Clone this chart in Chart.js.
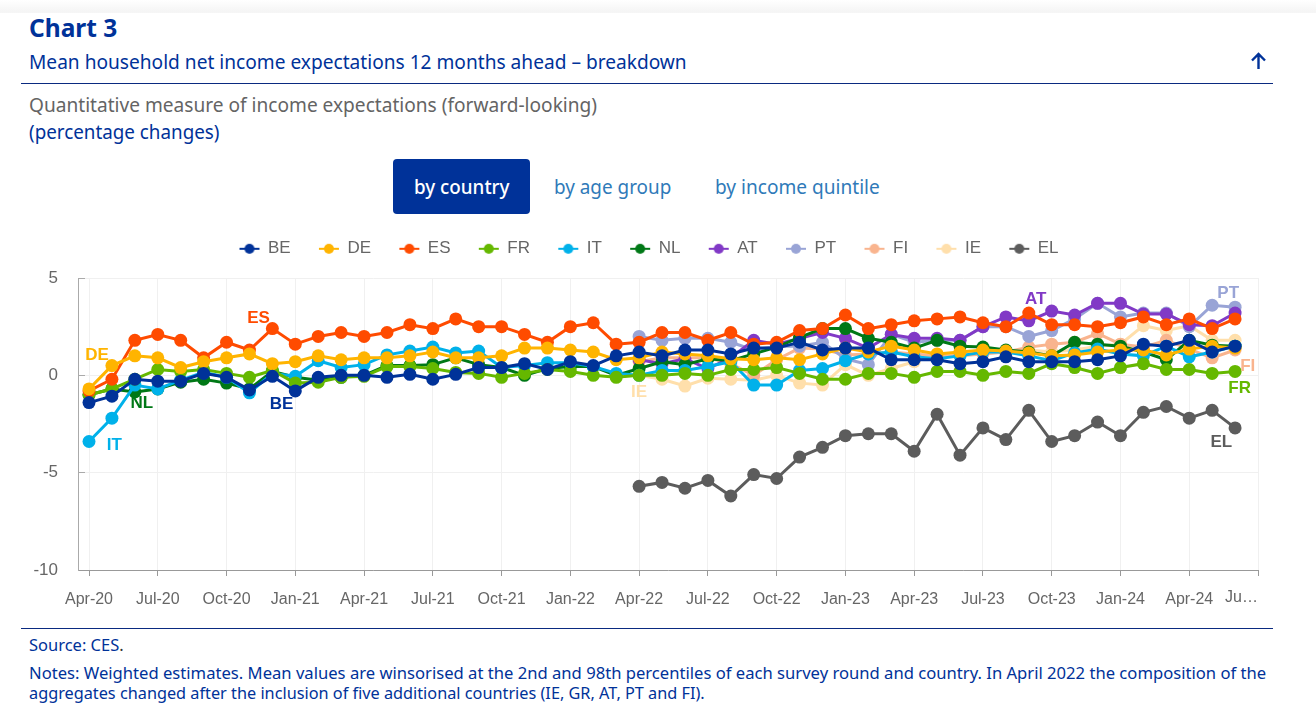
<!DOCTYPE html>
<html>
<head>
<meta charset="utf-8">
<script src="https://cdn.jsdelivr.net/npm/chart.js@4"></script>
<style>
html, body { margin: 0; padding: 0; background: #fff; overflow: hidden; }
body { width: 1316px; height: 708px; position: relative; font-family: "Noto Sans", sans-serif; color: #003299; }
.abs { position: absolute; white-space: nowrap; transform-origin: left center; }
.band { left: 0; top: 0; width: 1316px; height: 13px; background: linear-gradient(#fff, #f4f4f4 95%, #fafafa); }
.rule { height: 1px; background: #0a2a80; left: 21px; width: 1252px; }
.tab { font-size: 20px; line-height: 55px; top: 159px; color: #2f7ab9; }
#wrap { left: 0; top: 211px; width: 1316px; height: 409px; }
</style>
</head>
<body>
<div class="abs band"></div>
<div class="abs" style="left:29px;top:11px;font-size:24.5px;line-height:33px;font-weight:700">Chart 3</div>
<div class="abs" style="left:29px;top:48px;font-size:20px;line-height:28px;transform:scaleX(.956)">Mean household net income expectations 12 months ahead – breakdown</div>
<svg class="abs" style="left:1248px;top:50px" width="20" height="22" viewBox="0 0 20 22"><path d="M10.5 19V4M4 10.5L10.5 4L17 10.5" fill="none" stroke="#003299" stroke-width="2.4"/></svg>
<div class="abs rule" style="top:83px"></div>
<div class="abs" style="left:29px;top:91px;font-size:20px;line-height:28px;color:#646464;transform:scaleX(.955)">Quantitative measure of income expectations (forward-looking)</div>
<div class="abs" style="left:29px;top:118px;font-size:20px;line-height:28px;transform:scaleX(.94)">(percentage changes)</div>
<div class="abs tab" style="left:393px;width:137px;height:55px;background:#003299;border-radius:4px"></div>
<div class="abs tab" style="left:414px;color:#fff;font-weight:500;transform:scaleX(.94)">by country</div>
<div class="abs tab" style="left:554px;transform:scaleX(.944)">by age group</div>
<div class="abs tab" style="left:715px;transform:scaleX(.954)">by income quintile</div>
<div class="abs" id="wrap"><canvas id="incomeChart" width="1316" height="409"></canvas></div>
<div class="abs rule" style="top:628px"></div>
<div class="abs" style="left:29px;top:634px;font-size:16px;line-height:22px;transform:scaleX(1.03)">Source: CES<span style="color:#333">.</span></div>
<div class="abs" style="left:29px;top:663px;font-size:16px;line-height:20px;transform:scaleX(1.0386)">Notes: Weighted estimates. Mean values are winsorised at the 2nd and 98th percentiles of each survey round and country. In April 2022 the composition of the</div>
<div class="abs" style="left:29px;top:683px;font-size:16px;line-height:20px;transform:scaleX(1.0166)">aggregates changed after the inclusion of five additional countries (IE, GR, AT, PT and FI).</div>

<script>
// monthly survey rounds, Apr-20 to Jun-24
const months = ['Apr-20','May-20','Jun-20','Jul-20','Aug-20','Sep-20','Oct-20','Nov-20','Dec-20',
    'Jan-21','Feb-21','Mar-21','Apr-21','May-21','Jun-21','Jul-21','Aug-21','Sep-21','Oct-21','Nov-21','Dec-21',
    'Jan-22','Feb-22','Mar-22','Apr-22','May-22','Jun-22','Jul-22','Aug-22','Sep-22','Oct-22','Nov-22','Dec-22',
    'Jan-23','Feb-23','Mar-23','Apr-23','May-23','Jun-23','Jul-23','Aug-23','Sep-23','Oct-23','Nov-23','Dec-23',
    'Jan-24','Feb-24','Mar-24','Apr-24','May-24','Jun-24'];
const yTicks = [5, 0, -5, -10];

const BE = [-1.4,-1.07,-0.2,-0.3,-0.3,0.1,-0.1,-0.75,-0.05,-0.8,-0.1,0,0,-0.1,0.05,-0.2,0.05,0.4,0.4,0.6,0.3,0.7,0.5,1.0,1.2,1.0,1.3,1.3,1.1,1.4,1.4,1.7,1.3,1.4,1.4,0.8,0.8,0.8,0.6,0.7,0.95,0.7,0.7,0.7,0.8,1.0,1.6,1.5,1.8,1.2,1.5];
const DE = [-0.7,0.5,1.0,0.9,0.4,0.7,0.9,1.1,0.6,0.7,1.0,0.8,0.9,0.9,1.0,1.2,0.9,0.9,1.0,1.4,1.4,1.3,1.2,0.8,0.9,1.2,1.1,1.0,0.85,0.8,0.9,0.8,1.1,1.4,1.2,1.5,1.3,1.1,1.2,1.3,1.25,1.15,1.0,1.05,1.2,1.3,1.3,1.05,1.35,1.5,1.4];
const ES = [-0.8,-0.2,1.8,2.1,1.8,0.9,1.7,1.3,2.4,1.6,2.0,2.2,2.0,2.2,2.6,2.4,2.9,2.5,2.5,2.1,1.7,2.5,2.7,1.6,1.7,2.2,2.2,1.8,2.2,1.6,1.7,2.3,2.4,3.1,2.4,2.6,2.8,2.9,3.0,2.7,2.5,3.2,2.6,2.6,2.5,2.7,3.0,2.6,2.9,2.4,2.9];
const FR = [-1.0,-0.7,-0.2,0.3,0.2,0.3,0.1,-0.1,0.25,-0.4,-0.35,-0.1,-0.05,0.45,0.45,0.35,0.15,0.1,-0.1,0.1,0.3,0.2,0,-0.1,0,0,0.1,0,0.3,0.3,0.4,0.1,-0.2,-0.2,0.1,0.1,-0.1,0.2,0.2,0,0.2,0.1,0.6,0.4,0.1,0.4,0.6,0.3,0.3,0.1,0.2];
const IT = [-3.4,-2.2,-0.5,-0.7,-0.25,0.15,-0.1,-0.9,0.1,-0.05,0.75,0.4,0.55,1.05,1.25,1.45,1.15,1.25,0.4,0.5,0.65,0.65,0.45,0.1,0,0.25,0.25,0.45,0.7,-0.5,-0.5,0.25,0.35,0.75,1.1,1.2,0.95,0.85,1.0,1.2,1.2,1.0,0.75,1.15,1.35,1.1,1.0,1.5,0.95,1.2,1.5];
const NL = [-1.0,-0.7,-0.85,-0.7,-0.35,-0.2,-0.4,-0.7,0.2,-0.1,-0.25,-0.1,0,0.5,0.5,0.55,0.9,0.55,0.4,0,0.35,0.45,0.45,0,0.35,0.7,0.55,0.85,0.75,1.1,1.45,1.95,2.4,2.4,1.9,1.7,1.4,1.8,1.5,1.45,1.3,1.2,1.0,1.7,1.6,1.5,1.2,0.8,1.8,1.55,1.5];
const AT = [null,null,null,null,null,null,null,null,null,null,null,null,null,null,null,null,null,null,null,null,null,null,null,null,0.8,0.6,0.85,0.35,0.9,1.8,1.6,1.9,2.2,1.9,1.4,2.1,1.9,1.9,1.8,2.5,3.0,2.8,3.3,3.1,3.7,3.7,3.15,3.15,2.6,2.55,3.2];
const PT = [null,null,null,null,null,null,null,null,null,null,null,null,null,null,null,null,null,null,null,null,null,null,null,null,2.0,1.8,1.9,1.9,1.7,1.3,1.5,1.5,1.7,0.85,0.55,2.1,1.7,1.8,1.8,2.5,2.5,2.0,2.3,2.9,3.7,3.0,3.2,3.2,2.5,3.6,3.5];
const FI = [null,null,null,null,null,null,null,null,null,null,null,null,null,null,null,null,null,null,null,null,null,null,null,null,0.7,0.9,0.9,0.9,0.6,0,0.8,1.4,1.35,1.05,1.1,1.2,1.1,1.0,1.0,1.1,1.2,1.45,1.6,1.7,2.15,1.6,1.45,1.8,1.35,0.9,1.3];
const IE = [null,null,null,null,null,null,null,null,null,null,null,null,null,null,null,null,null,null,null,null,null,null,null,null,0,-0.2,-0.55,-0.15,-0.2,-0.25,0,-0.4,-0.5,0.55,0,0.35,0.7,1.1,1.1,1.2,1.2,1.3,1.2,1.3,1.5,1.6,2.55,2.3,2.55,1.8,1.8];
const EL = [null,null,null,null,null,null,null,null,null,null,null,null,null,null,null,null,null,null,null,null,null,null,null,null,-5.7,-5.5,-5.8,-5.4,-6.2,-5.1,-5.3,-4.2,-3.7,-3.1,-3.0,-3.0,-3.9,-2.0,-4.1,-2.7,-3.3,-1.8,-3.4,-3.1,-2.4,-3.1,-1.9,-1.6,-2.2,-1.8,-2.7];

const countries = ['BE','DE','ES','FR','IT','NL','AT','PT','FI','IE','EL'];
const seriesValues = [BE, DE, ES, FR, IT, NL, AT, PT, FI, IE, EL];
const colours = ['#003299','#ffb400','#ff4b00','#65b800','#00b1ea','#007816','#8139c6','#99a4d6','#f9b48e','#ffdfab','#5c5c5c'];

// labels sitting next to the lines, in axis units (month index, percent)
const lineTags = [
    ['DE', 0.35, 1.05, 1], ['ES', 7.4, 2.95, 2], ['NL', 2.3, -1.45, 5], ['IT', 1.1, -3.6, 4], ['BE', 8.4, -1.5, 0],
    ['IE', 24, -0.87, 9], ['AT', 41.3, 3.9, 6], ['PT', 49.7, 4.2, 7], ['FI', 50.55, 0.45, 8], ['FR', 50.2, -0.65, 3], ['EL', 49.4, -3.43, 10]
];

function legendIcon(colour) {
    const c = document.createElement('canvas');
    c.width = 22; c.height = 14;
    const g = c.getContext('2d');
    g.strokeStyle = colour; g.lineWidth = 2;
    g.beginPath(); g.moveTo(1, 7); g.lineTo(21, 7); g.stroke();
    g.fillStyle = colour;
    g.beginPath(); g.arc(11, 7, 5, 0, Math.PI * 2); g.fill();
    return c;
}

const tagsPlugin = {
    id: 'lineTags',
    beforeInit(chart) {
        // fixed legend height, so the plot area lands where it should
        const fit = chart.legend.fit;
        chart.legend.fit = function () {
            fit.call(this);
            this.height = 66;
        };
    },
    afterLayout(chart) {
        chart.legend.right += 40;
    },
    afterDraw(chart) {
        const x = chart.scales.x, y = chart.scales.y, ctx = chart.ctx;
        ctx.save();
        ctx.font = 'bold 17px "Liberation Sans"';
        ctx.textAlign = 'center';
        ctx.textBaseline = 'middle';
        lineTags.forEach(t => {
            ctx.fillStyle = colours[t[3]];
            ctx.fillText(t[0], x.getPixelForValue(t[1]), y.getPixelForValue(t[2]));
        });
        // last x label is cut off in the original
        ctx.font = '16px "Liberation Sans"';
        ctx.fillStyle = '#666';
        ctx.textAlign = 'right';
        ctx.fillText('Ju…', x.getPixelForValue(51), 387);
        ctx.restore();
    }
};

new Chart(document.getElementById('incomeChart'), {
    type: 'line',
    plugins: [tagsPlugin],
    data: {
        datasets: countries.map((name, i) => ({
            label: name,
            data: seriesValues[i].map((v, k) => ({ x: k, y: v })),
            borderColor: colours[i],
            backgroundColor: colours[i],
            borderWidth: 3,
            pointRadius: 6.5,
            pointBorderWidth: 0,
            pointStyle: 'circle',
            tension: 0
        }))
    },
    options: {
        responsive: false,
        animation: false,
        layout: { padding: { left: 0, right: 58, top: 1, bottom: 0 } },
        plugins: {
            tooltip: { enabled: false },
            legend: {
                position: 'top',
                labels: {
                    usePointStyle: true,
                    pointStyleWidth: 20,
                    padding: 28.3,
                    color: '#666',
                    font: { family: '"Liberation Sans"', size: 17 },
                    generateLabels(chart) {
                        return chart.data.datasets.map((d, i) => ({
                            text: d.label, datasetIndex: i, pointStyle: legendIcon(colours[i]),
                            fontColor: '#666', lineWidth: 0, strokeStyle: 'transparent', fillStyle: colours[i]
                        }));
                    }
                }
            }
        },
        scales: {
            x: {
                type: 'linear',
                min: -0.48,
                max: 51,
                afterBuildTicks(axis) {
                    const t = [];
                    for (let v = 0; v <= 51; v += 3) t.push({ value: v });
                    axis.ticks = t;
                },
                afterFit(axis) { axis.height = 50; },
                grid: { color: '#f0f0f0', tickColor: '#999', tickLength: 6, lineWidth: 1 },
                border: { color: '#999' },
                ticks: {
                    autoSkip: false,
                    maxRotation: 0,
                    padding: 14,
                    color: '#666',
                    font: { family: '"Liberation Sans"', size: 16 },
                    callback: v => months[v] || ''
                }
            },
            y: {
                min: -10,
                max: 5,
                afterBuildTicks(axis) { axis.ticks = yTicks.map(v => ({ value: v })); },
                afterFit(axis) { axis.width = 78; },
                grid: { color: '#f0f0f0', tickColor: '#aaa', tickLength: -7 },
                border: { color: '#aaa' },
                ticks: { padding: 27, color: '#666', font: { family: '"Liberation Sans"', size: 17 } }
            }
        }
    }
});
</script>
</body>
</html>
